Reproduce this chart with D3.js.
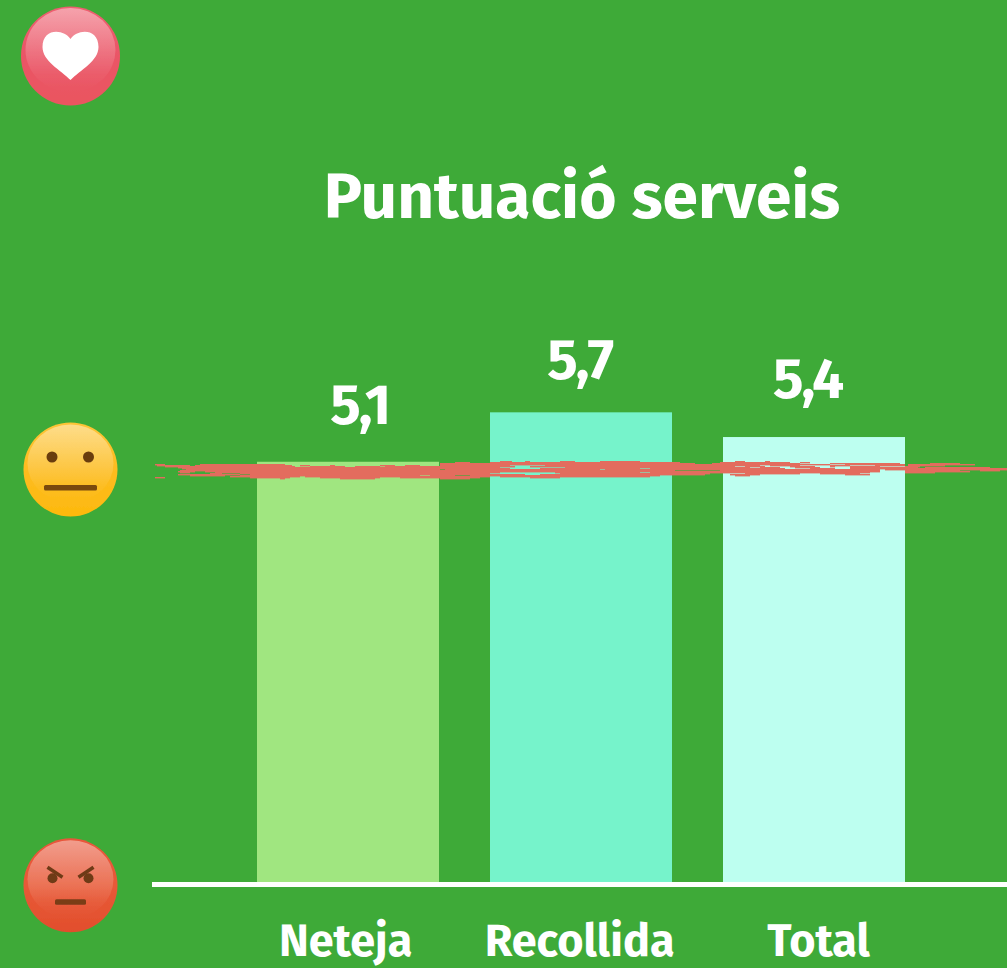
<!DOCTYPE html>
<html><head><meta charset="utf-8">
<script src="https://cdn.jsdelivr.net/npm/d3@7"></script>
<style>html,body{margin:0;padding:0;background:#3eaa38;overflow:hidden}svg{display:block}text{font-family:"Fira Sans",Lato,"Open Sans",sans-serif;font-weight:700;fill:#fff}</style>
</head><body><div id="c"></div>
<script>
const categories=["Neteja","Recollida","Total"];
const values=[5.1,5.7,5.4];
const valueLabels=["5,1","5,7","5,4"];
const barColors=["#a0e680","#76f3cb","#bdfff0"];
const title="Puntuació serveis";
const referenceScore=5;
const scaleMarks=[10,5,0];
// hand-drawn stroke at the reference score:
// [row relative to the score line, [start,end, start,end, ...]]
const brushRows=[
[-10,[500,512,525,530,560,575,600,640,735,745,765,770]],
[-9,[455,470,490,680,720,790,800,810]],
[-8,[440,695,712,800,830,900,930,960]],
[-7,[155,165,200,285,440,830,845,905,908,975]],
[-6,[157,190,195,292,300,310,330,335,380,395,405,420,440,510,545,760,770,800,830,850,875,905,908,945]],
[-5,[165,295,310,345,355,380,385,515,530,735,745,765,790,815,830,835,850,880,905,920]],
[-4,[178,500,565,750,760,780,795,820,850,918,925,990]],
[-3,[182,510,540,640,650,785,810,835,850,1007]],
[-2,[186,440,445,600,605,880,885,1007]],
[-1,[180,675,720,880,905,960,980,1000]],
[0,[178,195,205,880,905,970]],
[1,[180,190,215,500,555,640,650,870,905,935]],
[2,[210,222,240,490,560,710,745,800,820,860]],
[3,[178,240,250,525,540,705,730,760,845,870]],
[4,[190,225,240,420,430,455,470,660,735,750]],
[5,[230,300,305,490,500,650]],
[6,[155,165,250,290,320,380,400,480,530,560]],
[7,[280,285,340,375,440,470]]
];

const W=1007,H=968;
const svg=d3.select("#c").append("svg").attr("width",W).attr("height",H);
svg.append("rect").attr("width",W).attr("height",H).attr("fill","#3eaa38");
const y=d3.scaleLinear().domain([0,10]).range([882,58]);
const x=d3.scaleBand().domain(categories).range([231,930]).paddingInner(0.22).paddingOuter(0.11);
const defs=svg.append("defs");
function grad(id,stops){const g=defs.append("linearGradient").attr("id",id).attr("x1",0).attr("x2",0).attr("y1",0).attr("y2",1);
 stops.forEach(s=>g.append("stop").attr("offset",s[0]).attr("stop-color",s[1]));}
grad("gh",[[0,"#ee5f70"],[.5,"#ea5566"],[1,"#ea5560"]]);
grad("gn",[[0,"#fdc435"],[.5,"#fdbc20"],[1,"#fdb90e"]]);
grad("ga",[[0,"#e8563a"],[.5,"#e85a38"],[1,"#e24e2c"]]);
const hl=defs.append("linearGradient").attr("id","hl").attr("x1",0).attr("x2",0).attr("y1",0).attr("y2",1);
hl.append("stop").attr("offset",0).attr("stop-color","#fff").attr("stop-opacity",.42);
hl.append("stop").attr("offset",.8).attr("stop-color","#fff").attr("stop-opacity",.04);
hl.append("stop").attr("offset",1).attr("stop-color","#fff").attr("stop-opacity",0);
defs.append("filter").attr("id","soft").append("feGaussianBlur").attr("stdDeviation",.7);

svg.selectAll(".bar").data(categories).join("rect").attr("class","bar")
 .attr("x",d=>Math.round(x(d))).attr("width",182)
 .attr("y",(d,i)=>y(values[i])).attr("height",(d,i)=>y(0)-y(values[i]))
 .attr("fill",(d,i)=>barColors[i]);

svg.append("line").attr("x1",152).attr("x2",W).attr("y1",y(0)+2.5).attr("y2",y(0)+2.5).attr("stroke","#fff").attr("stroke-width",5);

const brush=svg.append("g").attr("fill","#e36c5e");
brushRows.forEach(([row,segs])=>{
 const pairs=d3.pairs(segs).filter((p,i)=>i%2===0);
 brush.selectAll(null).data(pairs).join("rect")
  .attr("x",p=>p[0]).attr("width",p=>p[1]-p[0])
  .attr("y",y(referenceScore)+row+1).attr("height",1.4);
});

const valDx=[12,-1,-6], valY=[424,379,398];
svg.selectAll(".val").data(valueLabels).join("text").attr("class","val")
 .attr("x",(d,i)=>x(categories[i])+91+valDx[i]).attr("y",(d,i)=>valY[i])
 .attr("text-anchor","middle").attr("font-size",57).style("letter-spacing","-2px").text(d=>d);
const catDx=[-2,-1,5];
svg.selectAll(".cat").data(categories).join("text").attr("class","cat")
 .attr("x",(d,i)=>x(d)+91+catDx[i]).attr("y",956)
 .attr("text-anchor","middle").attr("font-size",45).text(d=>d);
svg.append("text").attr("x",582).attr("y",218).attr("text-anchor","middle").attr("font-size",64).text(title);

const cx=70.5;
const emDy={10:-2,5:-0.5,0:3.3};
const em=svg.selectAll(".em").data(scaleMarks).join("g").attr("class","em")
 .attr("transform",d=>`translate(${cx},${y(d)+emDy[d]})`).attr("filter","url(#soft)");
em.append("circle").attr("r",d=>d===10?49.5:47).attr("fill",d=>d===10?"url(#gh)":d===5?"url(#gn)":"url(#ga)");
em.append("ellipse").attr("cy",-6).attr("rx",d=>d===10?45:43).attr("ry",d=>d===10?42:39).attr("fill","url(#hl)");
const heart=em.filter(d=>d===10);
heart.append("path").attr("fill","#fff").attr("d","M0,-17 C-6,-27 -28,-29 -28,-9 C-28,5 -10,14 0,24 C10,14 28,5 28,-9 C28,-29 6,-27 0,-17Z");
const neu=em.filter(d=>d===5);
neu.selectAll(".eye").data([-18.5,18]).join("circle").attr("cx",d=>d).attr("cy",-12.5).attr("r",5.5).attr("fill","#6a3c10");
neu.append("rect").attr("x",-26.5).attr("y",15.5).attr("width",53).attr("height",5.5).attr("rx",1.5).attr("fill","#7a4a10");
const ang=em.filter(d=>d===0);
ang.selectAll(".eye").data([-1,1]).join("g").attr("transform",d=>`translate(${d*18},0)`).each(function(d){
 const g=d3.select(this);
 g.append("circle").attr("cy",-7).attr("r",5).attr("fill","#6e3a18");
 g.append("line").attr("x1",d*5).attr("y1",-18).attr("x2",d*-10).attr("y2",-8).attr("stroke","#6e3a18").attr("stroke-width",3.5);
});
ang.append("rect").attr("x",-15.5).attr("y",14).attr("width",31).attr("height",5.5).attr("rx",1.5).attr("fill","#7a3d18");
</script></body></html>
